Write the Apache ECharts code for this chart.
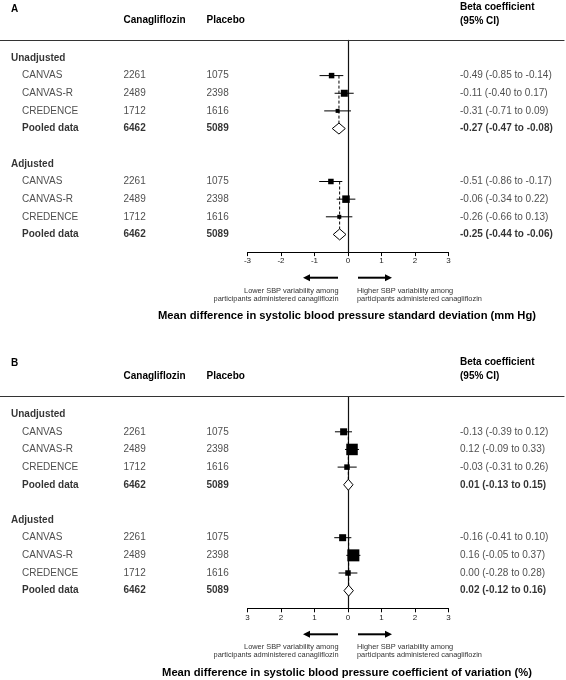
<!DOCTYPE html>
<html><head><meta charset="utf-8">
<script src="https://cdn.jsdelivr.net/npm/echarts@6/dist/echarts.min.js"></script>
<style>html,body{margin:0;padding:0;background:#fff}#c{width:566px;height:680px}</style>
</head><body><div id="c"></div><script>
// ---------------- DATA ----------------
const groups = ['Unadjusted', 'Adjusted'];
const studies = ['CANVAS', 'CANVAS-R', 'CREDENCE', 'Pooled data'];
const canaN = [2261, 2489, 1712, 6462];
const placeboN = [1075, 2398, 1616, 5089];

// Panel A: SBP standard deviation
const betaA_unadj = [-0.49, -0.11, -0.31, -0.27];
const lowA_unadj  = [-0.85, -0.40, -0.71, -0.47];
const highA_unadj = [-0.14, 0.17, 0.09, -0.08];
const betaA_adj   = [-0.51, -0.06, -0.26, -0.25];
const lowA_adj    = [-0.86, -0.34, -0.66, -0.44];
const highA_adj   = [-0.17, 0.22, 0.13, -0.06];

// Panel B: SBP coefficient of variation
const betaB_unadj = [-0.13, 0.12, -0.03, 0.01];
const lowB_unadj  = [-0.39, -0.09, -0.31, -0.13];
const highB_unadj = [0.12, 0.33, 0.26, 0.15];
const betaB_adj   = [-0.16, 0.16, 0.00, 0.02];
const lowB_adj    = [-0.41, -0.05, -0.28, -0.12];
const highB_adj   = [0.10, 0.37, 0.28, 0.16];

const tickValues = [-3, -2, -1, 0, 1, 2, 3];
const tickLabelsA = ['-3', '-2', '-1', '0', '1', '2', '3'];
const tickLabelsB = ['3', '2', '1', '0', '1', '2', '3'];

const titleA = 'Mean difference in systolic blood pressure standard deviation (mm Hg)';
const titleB = 'Mean difference in systolic blood pressure coefficient of variation (%)';
const lowerText = ['Lower SBP variability among', 'participants administered canagliflozin'];
const higherText = ['Higher SBP variability among', 'participants administered canagliflozin'];

// ---------------- STYLE ----------------
const FONT = '"Liberation Sans", Arial, Helvetica, sans-serif';
const TXT = '#222', BOLD = '#000';
const markerSizeA = [[5.5, 7, 4], [5.5, 7.5, 4]];
const markerSizeB = [[7, 11.5, 5.5], [7, 12, 5.5]];
const DIAMOND_H = 11;
const colGroup = 11, colStudy = 22, colCana = 123.5, colPlacebo = 206.5, colBeta = 460;
const panels = [
  { top: 40.3, betas: [[betaA_unadj, lowA_unadj, highA_unadj], [betaA_adj, lowA_adj, highA_adj]], sizes: markerSizeA, ticks: tickLabelsA },
  { top: 396.5, betas: [[betaB_unadj, lowB_unadj, highB_unadj], [betaB_adj, lowB_adj, highB_adj]], sizes: markerSizeB, ticks: tickLabelsB }
];
const GRID_H = 211.8, FOREST_L = 247.5, FOREST_W = 201, TABLE_W = 564;

function fmt(v) { return v.toFixed(2); }

const grid = [], xAxis = [], yAxis = [], series = [];
panels.forEach((p, pi) => {
  const gF = pi * 2, gT = pi * 2 + 1;
  grid.push({ left: FOREST_L, width: FOREST_W, top: p.top, height: GRID_H });
  grid.push({ left: 0, width: TABLE_W, top: p.top, height: GRID_H });
  xAxis.push({
    gridIndex: gF, type: 'value', min: -3, max: 3, interval: 1, position: 'bottom',
    axisLine: { show: true, onZero: false, lineStyle: { color: '#000', width: 1 } },
    axisTick: { show: true, length: 4, lineStyle: { color: '#000' } },
    axisLabel: { margin: 5, fontSize: 8, color: TXT, fontFamily: FONT,
      formatter: v => { const i = tickValues.indexOf(Math.round(v)); return i >= 0 ? p.ticks[i] : ''; } },
    splitLine: { show: false }
  });
  xAxis.push({
    gridIndex: gT, type: 'value', min: 0, max: TABLE_W, position: 'top',
    axisLine: { show: true, onZero: false, lineStyle: { color: '#333', width: 1.2 } },
    axisTick: { show: false }, axisLabel: { show: false }, splitLine: { show: false }
  });
  yAxis.push({
    gridIndex: gF, type: 'value', min: -1, max: 11, inverse: true,
    axisLine: { show: true, onZero: true, lineStyle: { color: '#111', width: 1.2 } },
    axisTick: { show: false }, axisLabel: { show: false }, splitLine: { show: false }
  });
  yAxis.push({
    gridIndex: gT, type: 'value', min: -1, max: 11, inverse: true, show: false
  });

  // table text
  const textData = [];
  const lab = (x, row, text, bold) => ({
    value: [x, row],
    label: { formatter: text, fontWeight: bold ? 'bold' : 'normal', color: bold ? BOLD : TXT }
  });
  groups.forEach((g, gi) => {
    const base = gi * 6;
    textData.push(lab(colGroup, base, g, true));
    studies.forEach((s, si) => {
      const row = base + 1 + si, bold = si === 3;
      const [b, l, h] = p.betas[gi];
      textData.push(lab(colStudy, row, s, bold));
      textData.push(lab(colCana, row, String(canaN[si]), bold));
      textData.push(lab(colPlacebo, row, String(placeboN[si]), bold));
      textData.push(lab(colBeta, row, fmt(b[si]) + ' (' + fmt(l[si]) + ' to ' + fmt(h[si]) + ')', bold));
    });
  });
  series.push({
    type: 'scatter', xAxisIndex: gT, yAxisIndex: gT, symbolSize: 0, silent: true, clip: false,
    label: { show: true, position: 'right', distance: 0, fontSize: 10, fontFamily: FONT },
    data: textData
  });

  // forest marks
  const studyData = [], pooledData = [];
  groups.forEach((g, gi) => {
    const base = gi * 6;
    const [b, l, h] = p.betas[gi];
    for (let si = 0; si < 3; si++) studyData.push([b[si], l[si], h[si], base + 1 + si, p.sizes[gi][si]]);
    pooledData.push([b[3], l[3], h[3], base + 4, base + 1]);
  });
  series.push({
    type: 'custom', xAxisIndex: gF, yAxisIndex: gF, silent: true, z: 5,
    data: studyData,
    renderItem: (params, api) => {
      const y = api.coord([0, api.value(3)])[1];
      const xb = api.coord([api.value(0), 0])[0];
      const xl = api.coord([api.value(1), 0])[0];
      const xh = api.coord([api.value(2), 0])[0];
      const s = api.value(4);
      return { type: 'group', children: [
        { type: 'line', shape: { x1: xl, y1: y, x2: xh, y2: y }, style: { stroke: '#000', lineWidth: 1 } },
        { type: 'rect', shape: { x: xb - s / 2, y: y - s / 2, width: s, height: s }, style: { fill: '#000' } }
      ] };
    }
  });
  series.push({
    type: 'custom', xAxisIndex: gF, yAxisIndex: gF, silent: true, z: 6,
    data: pooledData,
    renderItem: (params, api) => {
      const y = api.coord([0, api.value(3)])[1];
      const y0 = api.coord([0, api.value(4)])[1];
      const xb = api.coord([api.value(0), 0])[0];
      const xl = api.coord([api.value(1), 0])[0];
      const xh = api.coord([api.value(2), 0])[0];
      const hh = DIAMOND_H / 2;
      return { type: 'group', children: [
        { type: 'line', shape: { x1: xb, y1: y0, x2: xb, y2: y - hh }, style: { stroke: '#000', lineWidth: 1, lineDash: [3, 2] } },
        { type: 'polygon', shape: { points: [[xl, y], [xb, y - hh], [xh, y], [xb, y + hh]] }, style: { fill: '#fff', stroke: '#000', lineWidth: 1 } }
      ] };
    }
  });
});

// ---------------- ANNOTATIONS ----------------
const graphic = [];
function txt(x, y, text, opts) {
  graphic.push({ type: 'text', x, y, silent: true, style: Object.assign({
    text, fontFamily: FONT, fontSize: 10, fill: TXT, verticalAlign: 'middle', align: 'left'
  }, opts || {}) });
}
function arrow(x1, x2, y, dir) {
  const tip = dir < 0 ? x1 : x2;
  const lineStart = dir < 0 ? x1 + 6 : x1, lineEnd = dir < 0 ? x2 : x2 - 6;
  graphic.push({ type: 'line', silent: true, shape: { x1: lineStart, y1: y, x2: lineEnd, y2: y }, style: { stroke: '#000', lineWidth: 2 } });
  graphic.push({ type: 'polygon', silent: true, shape: { points: [[tip, y], [tip - dir * 7, y - 3.5], [tip - dir * 7, y + 3.5]] }, style: { fill: '#000' } });
}
const headerY = [[9, 20.5, 7], [363.5, 376, 362]];
const HB = { fontWeight: 'bold', fill: BOLD, fontSize: 10 };
['A', 'B'].forEach((L, pi) => {
  const [ly, hy, by] = headerY[pi];
  txt(11, ly, L, HB);
  txt(colCana, hy, 'Canagliflozin', HB);
  txt(colPlacebo, hy, 'Placebo', HB);
  txt(colBeta, by, 'Beta coefficient', HB);
  txt(colBeta, by + 14, '(95% CI)', HB);
});
const annY = [[277.7, 291, 299.3, 315.7, titleA], [634.3, 647.3, 655.3, 673, titleB]];
annY.forEach(([ay, t1, t2, ty, title]) => {
  arrow(303, 338, ay, -1);
  arrow(358, 392, ay, 1);
  txt(338.5, t1, lowerText[0], { fontSize: 7.4, align: 'right', fill: '#333' });
  txt(338.5, t2, lowerText[1], { fontSize: 7.4, align: 'right', fill: '#333' });
  txt(357, t1, higherText[0], { fontSize: 7.4, fill: '#333' });
  txt(357, t2, higherText[1], { fontSize: 7.4, fill: '#333' });
  txt(347, ty, title, { fontSize: 11.2, fontWeight: 'bold', fill: BOLD, align: 'center' });
});

const chart = echarts.init(document.getElementById('c'), null, { renderer: 'canvas' });
chart.setOption({ animation: false, backgroundColor: '#fff', grid, xAxis, yAxis, series, graphic });
</script></body></html>
